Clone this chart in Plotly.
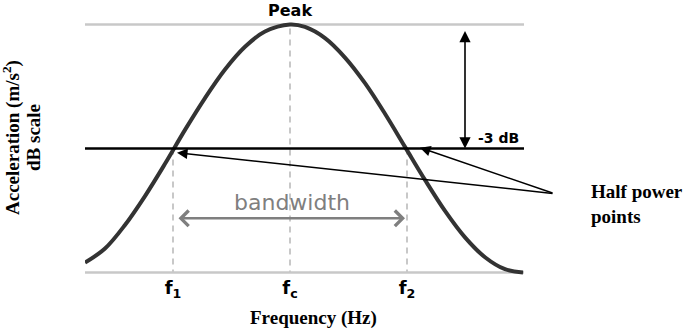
import plotly.graph_objects as go

# Frequency axis (arbitrary units) and response level in dB relative to peak
freq = [0, 20, 40, 60, 80, 100, 120, 140, 160, 180, 205, 220, 240, 260, 280,
        300, 320, 340, 360, 380, 400, 420, 438]
level_db = [-5.76, -5.42, -4.85, -4.15, -3.37, -2.55, -1.78, -1.09, -0.54, -0.17,
            0.0, -0.06, -0.33, -0.80, -1.42, -2.16, -2.96, -3.76, -4.51, -5.15,
            -5.63, -5.92, -6.0]

tick_vals = [88, 205, 322]
tick_text = ["<b>f<sub>1</sub></b>", "<b>f<sub>c</sub></b>", "<b>f<sub>2</sub></b>"]
peak_db = 0.0
half_db = -3.0
floor_db = -6.0
x_range = [0, 439]
bandwidth = [92, 320]

fig = go.Figure()
fig.add_trace(go.Scatter(x=freq, y=level_db, mode="lines", line_shape="spline",
                         line=dict(color="#333333", width=4), hoverinfo="skip",
                         showlegend=False))

gray = "#c8c8c8"
shapes = [
    dict(type="line", xref="x", yref="y", x0=x_range[0], x1=x_range[1], y0=peak_db, y1=peak_db,
         line=dict(color=gray, width=2.5), layer="below"),
    dict(type="line", xref="x", yref="y", x0=x_range[0], x1=x_range[1], y0=floor_db, y1=floor_db,
         line=dict(color=gray, width=2.5), layer="below"),
    dict(type="line", xref="x", yref="y", x0=tick_vals[0], x1=tick_vals[0], y0=half_db, y1=floor_db,
         line=dict(color=gray, width=2, dash="6px,5px"), layer="below"),
    dict(type="line", xref="x", yref="y", x0=tick_vals[1], x1=tick_vals[1], y0=peak_db - 0.1, y1=floor_db,
         line=dict(color=gray, width=2, dash="6px,5px"), layer="below"),
    dict(type="line", xref="x", yref="y", x0=tick_vals[2], x1=tick_vals[2], y0=half_db, y1=floor_db,
         line=dict(color=gray, width=2, dash="6px,5px"), layer="below"),
    dict(type="line", xref="x", yref="y", x0=x_range[0], x1=x_range[1], y0=half_db, y1=half_db,
         line=dict(color="black", width=2.5), layer="above"),
]

sans = "DejaVu Sans"
serif = "Liberation Serif"
annotations = [
    # Peak label
    dict(text="<b>Peak</b>", x=tick_vals[1], y=1.0435, xref="x", yref="paper",
         showarrow=False, font=dict(family=sans, size=16, color="black"),
         xanchor="center", yanchor="middle"),
    # -3 dB double arrow
    dict(x=380, y=half_db, ax=380, ay=-0.12, xref="x", yref="y", axref="x", ayref="y",
         text="", showarrow=True, arrowhead=2, arrowsize=1.4, arrowwidth=1.6,
         arrowside="end+start", arrowcolor="black", standoff=0, startstandoff=0),
    dict(text="<b>-3 dB</b>", x=413, y=-2.74, xref="x", yref="y", showarrow=False,
         font=dict(family=sans, size=14, color="black"), xanchor="center", yanchor="middle"),
    # bandwidth arrow
    dict(x=bandwidth[1], y=-4.69, ax=bandwidth[0], ay=-4.69, xref="x", yref="y",
         axref="x", ayref="y", text="", showarrow=True, arrowhead=4, arrowsize=1.2,
         arrowwidth=2.5, arrowside="end+start", arrowcolor="#7f7f7f", standoff=0,
         startstandoff=0),
    dict(text="bandwidth", x=207, y=-4.31, xref="x", yref="y", showarrow=False,
         font=dict(family=sans, size=22, color="#7f7f7f"), xanchor="center", yanchor="middle"),
    # half power pointers
    dict(x=92, y=-3.10, ax=469, ay=-4.09, xref="x", yref="y", axref="x", ayref="y",
         text="", showarrow=True, arrowhead=2, arrowsize=1.4, arrowwidth=1.5,
         arrowcolor="black", standoff=0),
    dict(x=335, y=-2.98, ax=469, ay=-4.09, xref="x", yref="y", axref="x", ayref="y",
         text="", showarrow=True, arrowhead=2, arrowsize=1.4, arrowwidth=1.5,
         arrowcolor="black", standoff=0),
    dict(text="<b>Half power<br>points</b>", x=1.148, y=0.2787, xref="paper", yref="paper",
         showarrow=False, font=dict(family=serif, size=19, color="black"),
         xanchor="left", yanchor="middle", align="left"),
    # axis titles
    dict(text="<b>Acceleration (m/s<sup>2</sup>)</b>", x=-0.1663, y=0.5455, xref="paper",
         yref="paper", showarrow=False, textangle=-90,
         font=dict(family=serif, size=19, color="black"), xanchor="center", yanchor="middle"),
    dict(text="<b>dB scale</b>", x=-0.1162, y=0.5455, xref="paper", yref="paper",
         showarrow=False, textangle=-90, font=dict(family=serif, size=19, color="black"),
         xanchor="center", yanchor="middle"),
    dict(text="<b>Frequency (Hz)</b>", x=0.52, y=-0.1700, xref="paper", yref="paper",
         showarrow=False, font=dict(family=serif, size=19, color="black"),
         xanchor="center", yanchor="middle"),
]

fig.update_layout(
    width=690, height=328,
    margin=dict(l=85, r=166, t=22, b=53),
    paper_bgcolor="white", plot_bgcolor="white",
    shapes=shapes, annotations=annotations,
    xaxis=dict(range=x_range, tickvals=tick_vals, ticktext=tick_text, showgrid=False,
               zeroline=False, showline=False, ticks="",
               tickfont=dict(family=sans, size=18, color="black")),
    yaxis=dict(range=[-6.06, 0.06], showgrid=False, zeroline=False, showline=False,
               showticklabels=False, ticks=""),
)

fig.write_html("out.html")
